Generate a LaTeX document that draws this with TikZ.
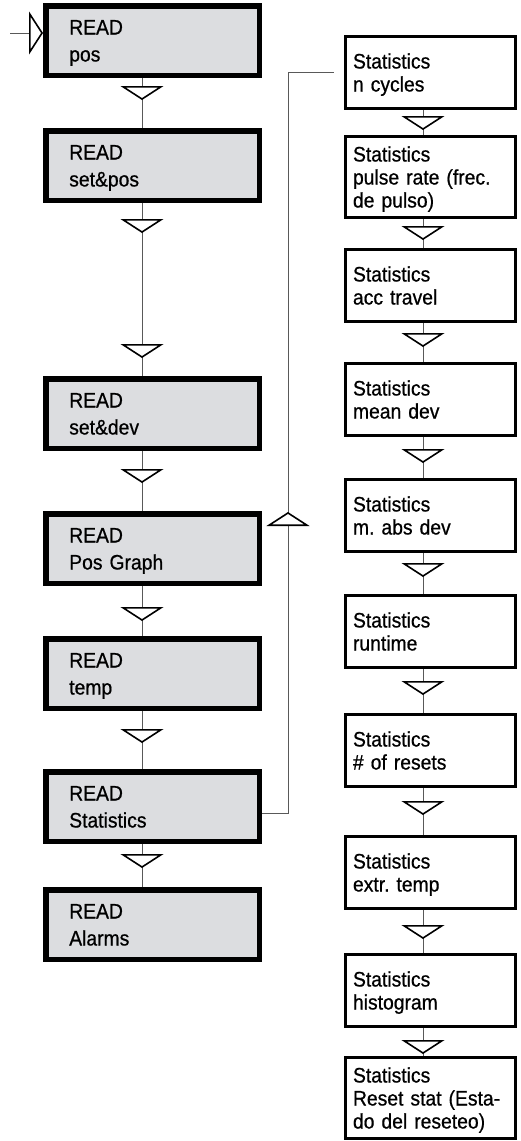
\documentclass[tikz,border=0pt]{standalone}
\usepackage{fontspec}
\setmainfont{Liberation Sans}[FakeStretch=0.92, FakeBold=0.7]
\frenchspacing
\usetikzlibrary{arrows.meta,positioning,decorations.markings}
\definecolor{readfill}{RGB}{220,221,224}
\tikzset{
  flowtip/.tip  ={Triangle[width=43pt, length=14pt, fill=white, color=black, line width=1.6pt]},
  readbox/.style={draw, line width=5.5pt, outer sep=2.75pt, fill=readfill, minimum width=213.5pt, minimum height=69.5pt,
                  text width=166.5pt, align=left, inner xsep=23.5pt, inner ysep=3pt,
                  font=\fontsize{21pt}{27pt}\selectfont,
                  execute at begin node=\rule{0pt}{22pt}, execute at end node=\rule[-7pt]{0pt}{7pt}},
  statbox/.style={draw, line width=3pt, outer sep=1.5pt, fill=white, minimum width=170pt, minimum height=72pt,
                  text width=155pt, align=left, inner xsep=7.5pt, inner ysep=3pt,
                  font=\fontsize{21pt}{23pt}\selectfont,
                  execute at begin node=\rule{0pt}{22pt}, execute at end node=\rule[-7pt]{0pt}{7pt}},
  link/.style   ={draw=black!65, line width=0.9pt},
  tri at/.style ={postaction={decorate, decoration={markings, mark=at position #1 with {\arrow{flowtip}}}}},
  tri at/.default=25pt,
}

\begin{document}
\begin{tikzpicture}
  \useasboundingbox (0,0) rectangle (521pt,-1141pt);
  % READ column
  \node[readbox] (rpos) at (152.5pt,-40.5pt) {READ\\pos};
  \node[readbox, below=50pt of rpos] (rsetpos) {READ\\set\&pos};
  \node[readbox, below=173pt of rsetpos] (rsetdev) {READ\\set\&dev};
  \node[readbox, below=60pt of rsetdev] (rgraph) {READ\\Pos Graph};
  \node[readbox, below=50pt of rgraph] (rtemp) {READ\\temp};
  \node[readbox, below=58pt of rtemp] (rstat) {READ\\Statistics};
  \node[readbox, below=43pt of rstat] (ralarm) {READ\\Alarms};

  % Statistics column
  \node[statbox] (sncyc) at (430.5pt,-72.5pt) {Statistics\\n cycles};
  \node[statbox, below=25pt of sncyc] (spulse) {Statistics\\pulse rate (frec.\\de pulso)};
  \node[statbox, below=29pt of spulse] (sacc) {Statistics\\acc travel};
  \node[statbox, below=39pt of sacc] (smean) {Statistics\\mean dev};
  \node[statbox, below=41pt of smean] (smabs) {Statistics\\m. abs dev};
  \node[statbox, below=41pt of smabs] (srun) {Statistics\\runtime};
  \node[statbox, below=44pt of srun] (sreset) {Statistics\\\# of resets};
  \node[statbox, below=47pt of sreset] (sextr) {Statistics\\extr. temp};
  \node[statbox, below=43pt of sextr] (shist) {Statistics\\histogram};
  \node[statbox, below=28pt of shist] (sclear) {Statistics\\Reset stat (Esta-\\do del reseteo)};

  % flow
  \coordinate (entry) at (10pt,-33pt);
  \draw[link, -{flowtip}] (entry) -- (entry -| rpos.west);
  \foreach \a/\b/\d in {rpos/rsetpos/22pt, rsetdev/rgraph/32pt, rgraph/rtemp/35pt, rtemp/rstat/32pt, rstat/ralarm/24pt}
    \draw[link, tri at=\d] ([xshift=-10.5pt]\a.south) -- ([xshift=-10.5pt]\b.north);
  \draw[link, tri at=30pt, tri at=-18pt] ([xshift=-10.5pt]rsetpos.south) -- ([xshift=-10.5pt]rsetdev.north);
  \foreach \a/\b/\d in {sncyc/spulse/20pt, spulse/sacc/21pt, sacc/smean/24pt, smean/smabs/26pt, smabs/srun/24pt,
                        srun/sreset/26pt, sreset/sextr/27pt, sextr/shist/29pt, shist/sclear/26pt}
    \draw[link, tri at=\d] ([xshift=-7.5pt]\a.south) -- ([xshift=-7.5pt]\b.north);
  \draw[link, tri at=327pt] ([yshift=-6.5pt]rstat.east) -| ([xshift=-56pt]sncyc.west) -- ([xshift=-10pt]sncyc.west);
\end{tikzpicture}
\end{document}
